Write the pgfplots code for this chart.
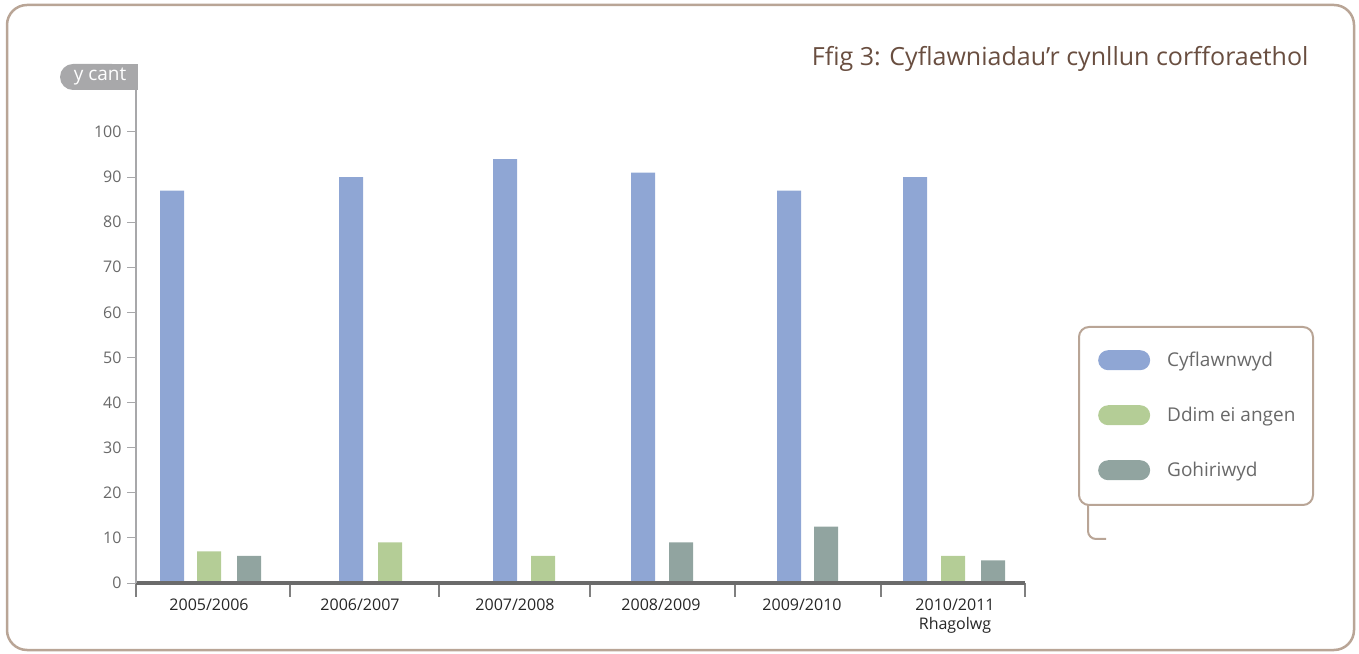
\documentclass[border=0pt]{standalone}
\usepackage{fontspec}
\setmainfont{Open Sans}
\usepackage{pgfplots}
\pgfplotsset{compat=1.18}
\definecolor{cblue}{RGB}{143,166,212}
\definecolor{cgreen}{RGB}{180,205,150}
\definecolor{cgrey}{RGB}{145,164,160}
\definecolor{framec}{RGB}{185,165,150}
\definecolor{titlec}{RGB}{105,78,64}
\definecolor{axgray}{RGB}{168,168,170}
\definecolor{txtgray}{RGB}{105,105,105}
\begin{document}
\begin{tikzpicture}[x=1pt,y=1pt]
\useasboundingbox (0,0) rectangle (1359,653);
\draw[framec, line width=2.5pt, rounded corners=20pt] (7,3) rectangle (1354,648);
\node[anchor=east, text=titlec, font=\fontsize{25}{30}\selectfont] at (1312,594) {Ffig 3: Cyflawniadau\char"0027 r cynllun corfforaethol};
% y axis label pill
\fill[axgray, rounded corners=13pt] (60,563) rectangle (125,589);
\fill[axgray] (100,563) rectangle (138,589);
\node[text=white, font=\fontsize{19}{22}\selectfont] at (100,576) {y cant};
% legend frame
\draw[framec, line width=2pt, rounded corners=10pt] (1079,148) rectangle (1313,326);
\draw[framec, line width=2pt, rounded corners=8pt] (1088,148) -- (1088,114) -- (1106,114);

\begin{axis}[
  at={(136pt,70pt)}, anchor=south west,
  scale only axis, width=889pt, height=493pt,
  xmin=136, xmax=1025, ymin=0, ymax=109.3,
  axis lines*=left,
  axis on top,
  clip=false,
  y axis line style={axgray, line width=1.5pt},
  x axis line style={black!58, line width=4pt},
  ytick={0,10,...,100},
  ytick style={axgray, line width=1pt},
  tick align=outside, major tick length=9pt,
  yticklabel style={text=txtgray, font=\fontsize{16}{18}\selectfont, xshift=-2pt},
  xtick={209,360,515,661,802,955},
  xticklabels={2005/2006,2006/2007,2007/2008,2008/2009,2009/2010,{2010/2011\\Rhagolwg}},
  xticklabel style={align=center, text=black!85, font=\fontsize{16}{19}\selectfont, yshift=-3pt},
  xtick style={draw=none},
  /pgf/number format/assume math mode=true,
  legend cell align=left,
  legend style={at={(1.0787,0.4767)}, anchor=north west, draw=none, fill=none,
    font=\fontsize{19}{22}\selectfont, text=txtgray, row sep=35pt,
    /tikz/every odd column/.append style={column sep=15pt}},
  legend image code/.code={\fill[rounded corners=10pt] (0pt,-10pt) rectangle (52pt,10pt);},
]
\addplot[ybar, bar width=24pt, fill=cblue, draw=none]
  coordinates {(172,87) (351,90) (505,94) (643,91) (789,87) (915,90)};
\addlegendentry{Cyflawnwyd}
\addplot[ybar, bar width=24pt, fill=cgreen, draw=none]
  coordinates {(209,7) (390,9) (543,6) (953,6)};
\addlegendentry{Ddim ei angen}
\addplot[ybar, bar width=24pt, fill=cgrey, draw=none]
  coordinates {(249,6) (681,9) (826,12.5) (993,5)};
\addlegendentry{Gohiriwyd}
\pgfplotsinvokeforeach{136,290,439,590,735,881,1025}{
  \draw[black!50, line width=1.2pt] (axis cs:#1,0) -- ([yshift=-14pt]axis cs:#1,0);
}
\end{axis}
\end{tikzpicture}
\end{document}
